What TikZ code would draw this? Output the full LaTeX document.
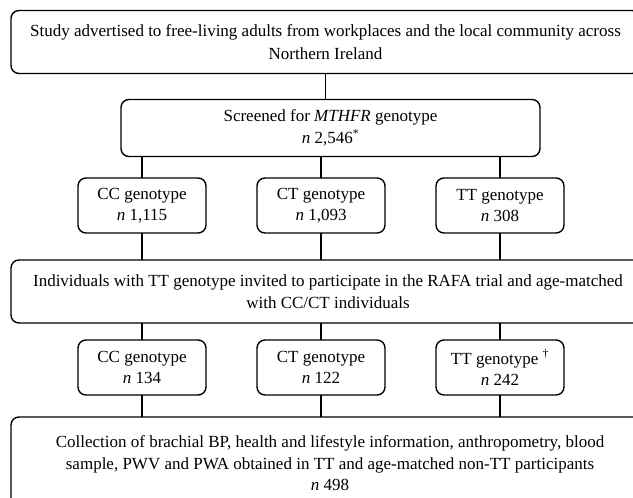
\documentclass[tikz,border=0pt]{standalone}
\usepackage{fontspec}
\setmainfont{Liberation Serif}
\usepackage{tikz}
\usetikzlibrary{positioning}

\begin{document}
\begin{tikzpicture}[x=1pt, y=-1pt, line width=1.4pt, every node/.style={font=\fontsize{17}{21.5}\selectfont}, box/.style={draw, rounded corners=8pt, align=center, inner sep=0pt, outer sep=0pt}, widebox/.style={box, minimum height=63pt}, gbox/.style={box, minimum width=128pt, minimum height=55pt}]
\useasboundingbox (0,0) rectangle (633,498);
\clip (0,0) rectangle (633,498);
\node[widebox, minimum width=629pt, font=\fontsize{17}{23}\selectfont] (advert) at (325.5,42) {Study advertised to free-living adults from workplaces and the local community across\\Northern Ireland};
\node[box, minimum width=419pt, minimum height=57pt, below=26pt of advert, xshift=5pt] (screen) {Screened for \textit{MTHFR} genotype\\\textit{n} 2,546\textsuperscript{*}};
\node[gbox, below=21.5pt of screen, xshift=-9.5pt] (ct1) {CT genotype\\\textit{n} 1,093};
\node[gbox, left=51pt of ct1] (cc1) {CC genotype\\\textit{n} 1,115};
\node[gbox, right=51pt of ct1] (tt1) {TT genotype\\\textit{n} 308};
\node[widebox, minimum width=634pt, below=27pt of ct1, xshift=7pt] (invite) {Individuals with TT genotype invited to participate in the RAFA trial and age-matched\\with CC/CT individuals};
\node[gbox, below=17pt of invite, xshift=-7pt] (ct2) {CT genotype\\\textit{n} 122};
\node[gbox, left=51pt of ct2] (cc2) {CC genotype\\\textit{n} 134};
\node[gbox, right=51pt of ct2] (tt2) {TT genotype \textsuperscript{\textdagger}\\\textit{n} 242};
\node[box, minimum width=638pt, minimum height=93pt, below=22pt of ct2, xshift=9pt] (collect) {Collection of brachial BP, health and lifestyle information, anthropometry, blood\\sample, PWV and PWA obtained in TT and age-matched non-TT participants\\\textit{n} 498};
\draw (advert.south) -- (advert.south |- screen.north);
\draw (cc1.north |- screen.south) -- (cc1.north);
\draw (ct1.north |- screen.south) -- (ct1.north);
\draw (tt1.north |- screen.south) -- (tt1.north);
\draw (cc1.south) -- (cc1.south |- invite.north);
\draw (ct1.south) -- (ct1.south |- invite.north);
\draw (tt1.south) -- (tt1.south |- invite.north);
\draw (cc2.north |- invite.south) -- (cc2.north);
\draw (ct2.north |- invite.south) -- (ct2.north);
\draw (tt2.north |- invite.south) -- (tt2.north);
\draw (cc2.south) -- (cc2.south |- collect.north);
\draw (ct2.south) -- (ct2.south |- collect.north);
\draw (tt2.south) -- (tt2.south |- collect.north);
\end{tikzpicture}
\end{document}
